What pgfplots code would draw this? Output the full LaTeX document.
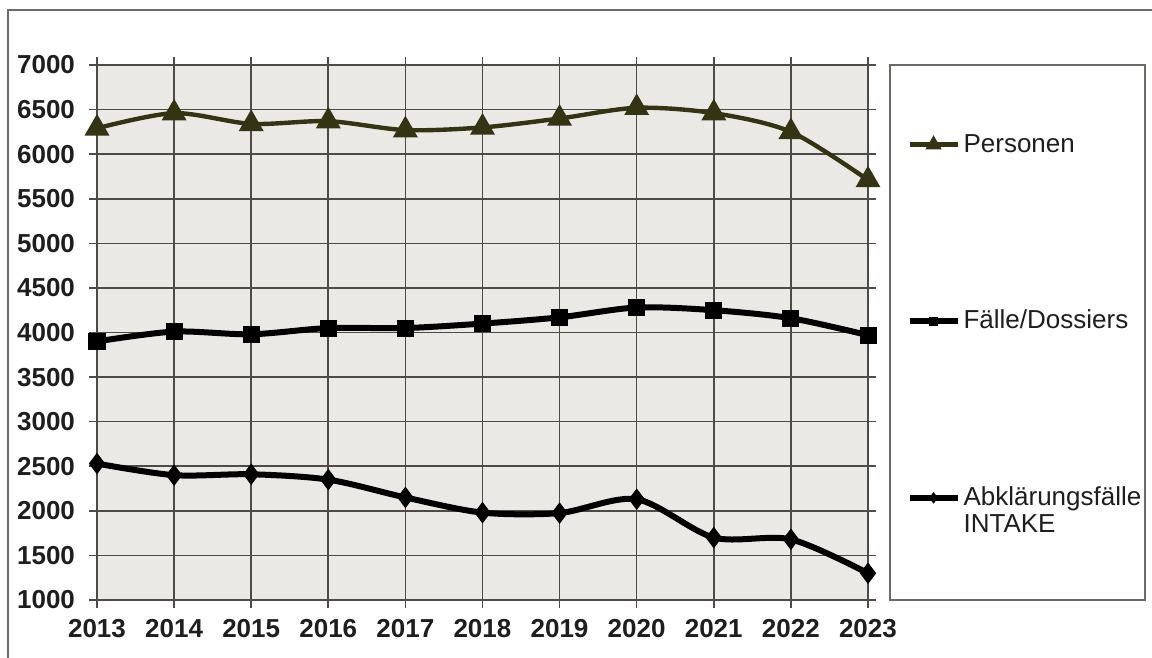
\documentclass[border=0pt]{standalone}
\usepackage{fontspec}
\setmainfont{Liberation Sans}
\usepackage{pgfplots}
\pgfplotsset{compat=1.18}
\definecolor{olivec}{RGB}{52,52,18}
\definecolor{gridc}{RGB}{78,74,70}
\definecolor{bgc}{RGB}{235,233,229}
\definecolor{framec}{RGB}{110,105,100}
\definecolor{textc}{RGB}{30,30,30}

\pgfplotsset{
  lineleg/.style={legend image code/.code={
    \draw[mark repeat=2, mark phase=2, ##1,
      /tikz/every mark/.append style={scale=0.5}]
      plot coordinates {(0pt,0pt) (12pt,0pt) (24pt,0pt)};
  }},
}

\pgfplotstableread{
year pers faelle abkl
2013 6290 3900 2530
2014 6460 4010 2400
2015 6340 3980 2410
2016 6370 4050 2350
2017 6270 4050 2150
2018 6300 4100 1980
2019 6400 4170 1975
2020 6520 4280 2130
2021 6460 4250 1700
2022 6250 4160 1680
2023 5710 3970 1300
}\data

\begin{document}
\begin{tikzpicture}
\useasboundingbox (0,0) rectangle (576pt,329pt);
\draw[framec, line width=0.8pt] (4pt,0pt) -- (4pt,324pt) -- (576pt,324pt);
\draw[framec, line width=0.8pt, fill=white] (445pt,29pt) rectangle (572.5pt,296.5pt);
\begin{axis}[
  at={(48.5pt,29pt)}, anchor=south west,
  scale only axis, width=385.5pt, height=267.5pt,
  xmin=2013, xmax=2023, ymin=1000, ymax=7000,
  xtick={2013,...,2023}, ytick={1000,1500,...,7000},
  /pgf/number format/1000 sep={},
  /pgf/number format/assume math mode=true,
  xticklabel={\bfseries\pgfmathprintnumber{\tick}},
  yticklabel={\bfseries\pgfmathprintnumber{\tick}},
  tick label style={font=\fontsize{13}{15}\selectfont, text=textc},
  grid=major, grid style={gridc, line width=0.8pt},
  axis line style={gridc, line width=0.8pt},
  axis background/.style={fill=bgc},
  tick align=outside, major tick length=4pt,
  tick style={gridc, line width=0.8pt},
  xticklabel style={yshift=-2pt},
  yticklabel style={xshift=-3.5pt},
  legend style={at={(axis description cs:1.0495,0.877)}, anchor=north west,
    draw=none, fill=none, inner sep=0pt, row sep=74.5pt,
    font=\fontsize{13}{15}\selectfont, text=textc,
    nodes={inner sep=1.5pt}},
  legend cell align=left,
  lineleg,
]
\addplot[olivec, line width=2.2pt, smooth, tension=0.5, mark=triangle*,
  mark size=5pt, mark options={solid, fill=olivec}]
  table[x=year, y=pers] {\data};
\addlegendentry{Personen}
\addplot[black, line width=3pt, smooth, tension=0.5, mark=square*,
  mark size=4pt, mark options={solid, fill=black, line width=0.5pt}]
  table[x=year, y=faelle] {\data};
\addlegendentry{Fälle/Dossiers}
\addplot[black, line width=3pt, smooth, tension=0.5, mark=diamond*,
  mark size=5pt, mark options={solid, fill=black, line width=0.5pt}]
  table[x=year, y=abkl] {\data};
\addlegendentry{\renewcommand\arraystretch{0.9}\raisebox{0pt}[\height][2.5pt]{\begin{tabular}[t]{@{}l@{}}Abklärungsfälle\\INTAKE\end{tabular}}}
\end{axis}
\end{tikzpicture}
\end{document}
